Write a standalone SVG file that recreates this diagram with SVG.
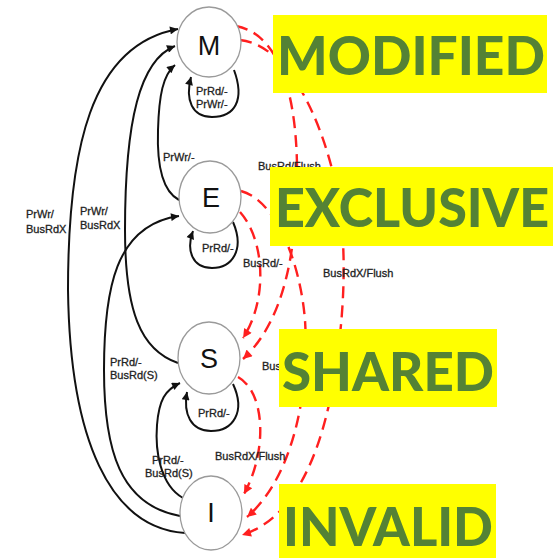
<svg xmlns="http://www.w3.org/2000/svg" width="558" height="558" viewBox="0 0 558 558">
  <style>
    .state { fill: #ffffff; stroke: #9a9a9a; stroke-width: 1.3; }
    .letter { font-family: "Liberation Sans", Arial, sans-serif; font-size: 27px; fill: #111; text-anchor: middle; }
    .proc { fill: none; stroke: #111; stroke-width: 2; marker-end: url(#arrowBlack); }
    .bus { fill: none; stroke: #ff1f1f; stroke-width: 2.4; stroke-dasharray: 12 7; marker-end: url(#arrowRed); }
    .lbl { font-family: "Liberation Sans", Arial, sans-serif; font-size: 11px; fill: #222; stroke: #222; stroke-width: 0.3; }
    .tag { fill: #ffff00; }
    .tagtxt { font-family: Lato, "Open Sans", sans-serif; font-weight: 900; font-size: 54px; fill: #548235; }
  </style>
  <defs>
    <marker id="arrowBlack" viewBox="0 0 10 10" refX="10" refY="5" markerWidth="10" markerHeight="8" markerUnits="userSpaceOnUse" orient="auto">
      <path d="M0,0 L10,5 L0,10 z" fill="#111"/>
    </marker>
    <marker id="arrowRed" viewBox="0 0 10 10" refX="10" refY="5" markerWidth="12" markerHeight="9" markerUnits="userSpaceOnUse" orient="auto">
      <path d="M0,0 L10,5 L0,10 z" fill="#ff1f1f"/>
    </marker>
  </defs>

  <!-- transitions -->
  <g id="connectors">
    <!-- processor-initiated (solid) -->
    <path class="proc" d="M185,533 C110,528 70,440 68,290 C68,150 90,45 178,29"/>
    <path class="proc" d="M178,363 C140,350 125,310 125,230 C125,120 140,60 175,46"/>
    <path class="proc" d="M180,516 C120,505 104,450 104,370 C104,290 115,225 179,216"/>
    <path class="proc" d="M179,200 C160,190 157,160 158,130 C159,95 163,75 175,65"/>
    <path class="proc" d="M183,498 C160,485 155,450 157,425 C159,400 165,390 180,383"/>
    <!-- self loops -->
    <path class="proc" d="M234,70 C245,100 235,117 212,117 C192,117 185,100 191,77"/>
    <path class="proc" d="M233,222 C245,250 232,268 212,268 C192,268 186,250 193,231"/>
    <path class="proc" d="M233,384 C246,412 233,431 211,431 C191,431 183,414 187,392"/>

    <!-- bus-snooped (dashed) -->
    <path class="bus" d="M236,26 C285,35 298,110 297,180 C296,250 285,320 243,359"/>
    <path class="bus" d="M240,40 C285,45 320,110 337,190 C350,260 342,340 330,400 C316,465 290,520 242,535"/>
    <path class="bus" d="M241,191 C275,200 300,260 305,320 C310,400 290,480 247,517"/>
    <path class="bus" d="M240,212 C265,240 268,300 243,338"/>
    <path class="bus" d="M238,377 C265,392 268,450 244,494"/>
  </g>

  <!-- transition labels -->
  <g id="labels">
    <text class="lbl" x="196" y="95">PrRd/-</text>
    <text class="lbl" x="196" y="108">PrWr/-</text>
    <text class="lbl" x="163" y="161">PrWr/-</text>
    <text class="lbl" x="202" y="252">PrRd/-</text>
    <text class="lbl" x="243" y="267">BusRd/-</text>
    <text class="lbl" x="258" y="170">BusRd/Flush</text>
    <text class="lbl" x="323" y="277">BusRdX/Flush</text>
    <text class="lbl" x="262" y="370">Bus</text>
    <text class="lbl" x="198" y="417">PrRd/-</text>
    <text class="lbl" x="110" y="366">PrRd/-</text>
    <text class="lbl" x="110" y="379">BusRd(S)</text>
    <text class="lbl" x="152" y="464">PrRd/-</text>
    <text class="lbl" x="145" y="477">BusRd(S)</text>
    <text class="lbl" x="215" y="460">BusRdX/Flush</text>
    <text class="lbl" x="26" y="218">PrWr/</text>
    <text class="lbl" x="26" y="233">BusRdX</text>
    <text class="lbl" x="80" y="215">PrWr/</text>
    <text class="lbl" x="80" y="229">BusRdX</text>
  </g>

  <!-- states -->
  <g id="node-M">
    <ellipse class="state" cx="209" cy="42" rx="32" ry="35"/>
    <text class="letter" x="209" y="55">M</text>
  </g>
  <g id="node-E">
    <ellipse class="state" cx="210" cy="197" rx="31" ry="36"/>
    <text class="letter" x="211" y="207">E</text>
  </g>
  <g id="node-S">
    <ellipse class="state" cx="209" cy="358" rx="31" ry="36"/>
    <text class="letter" x="209" y="368">S</text>
  </g>
  <g id="node-I">
    <ellipse class="state" cx="211" cy="513" rx="31" ry="37"/>
    <text class="letter" x="211" y="522">I</text>
  </g>

  <!-- state name tags -->
  <g id="tag-modified">
    <rect class="tag" x="273" y="15" width="274" height="78"/>
    <text class="tagtxt" x="277" y="75" textLength="268" lengthAdjust="spacingAndGlyphs">MODIFIED</text>
  </g>
  <g id="tag-exclusive">
    <rect class="tag" x="270" y="167" width="283" height="79"/>
    <text class="tagtxt" x="275" y="227" textLength="274" lengthAdjust="spacingAndGlyphs">EXCLUSIVE</text>
  </g>
  <g id="tag-shared">
    <rect class="tag" x="279" y="329" width="218" height="78"/>
    <text class="tagtxt" x="282" y="391" textLength="212" lengthAdjust="spacingAndGlyphs">SHARED</text>
  </g>
  <g id="tag-invalid">
    <rect class="tag" x="279" y="484" width="217" height="74"/>
    <text class="tagtxt" x="283" y="546" textLength="210" lengthAdjust="spacingAndGlyphs">INVALID</text>
  </g>
</svg>
